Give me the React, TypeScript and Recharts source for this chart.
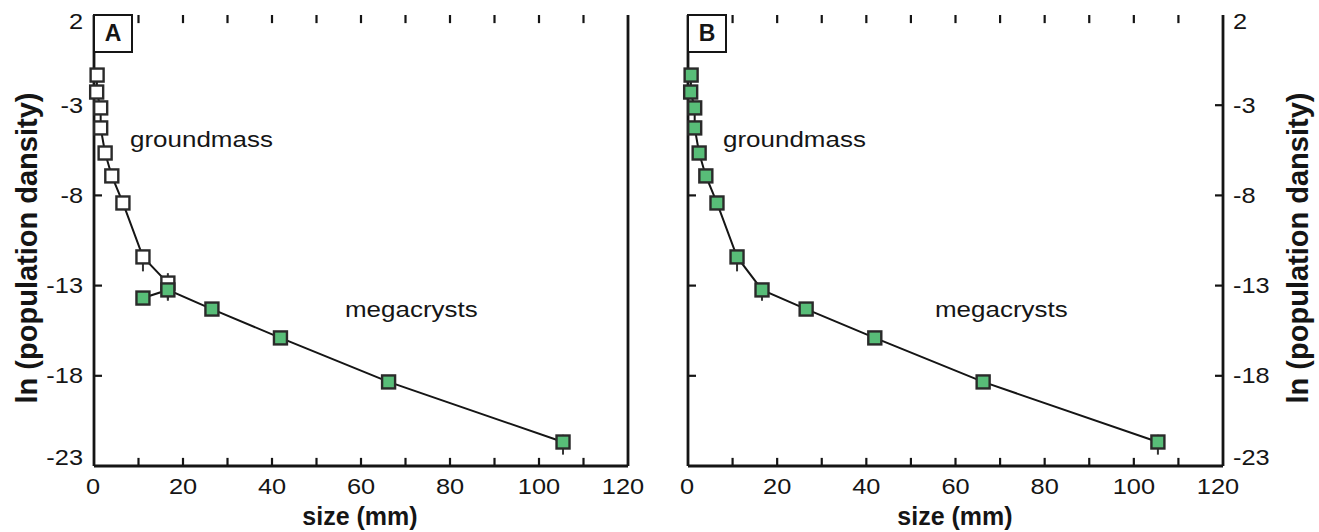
import React from 'react';
import { ScatterChart, Scatter, XAxis, YAxis, ErrorBar, ReferenceLine } from 'recharts';

// groundmass crystals (small sizes)
const gmSize = [0.7, 0.6, 1.5, 1.5, 2.5, 4.0, 6.5, 11.0, 16.6];
const gmLnN = [-1.33, -2.27, -3.15, -4.26, -5.65, -6.92, -8.42, -11.41, -12.86];
const gmErrLow = [0, 0, 0, 0, 0, 0, 0, 0.8, 0.9];
const gmErrHigh = [0, 0, 0, 0, 0, 0, 0, 0, 0.55];

// megacrysts
const mcSize = [11.0, 16.6, 26.5, 41.9, 66.2, 105.4];
const mcLnN = [-13.69, -13.24, -14.3, -15.9, -18.34, -21.67];
const mcErrLow = [0, 0.6, 0, 0, 0, 0.7];
const mcErrHigh = [0, 0.3, 0, 0, 0, 0.4];

const xTicks = [0, 10, 20, 30, 40, 50, 60, 70, 80, 90, 100, 110, 120];
const yTicks = [2, -3, -8, -13, -18, -23];

const X_MIN = 0;
const X_MAX = 120;
const Y_MIN = -23;
const Y_MAX = 2;

const INK = '#151515';
const GREEN = '#58bd78';
const FONT = '"Liberation Sans", Arial, Helvetica, sans-serif';
const STRETCH = 1.18; // glyphs in the original are a little wide

// inward tick length (~8px) in data units of each axis
const TICK_DY = 0.45;
const TICK_DX = 1.8;

type Pt = { x: number; y: number; err: [number, number] };

const toPoints = (xs: number[], ys: number[], lo: number[], hi: number[]): Pt[] =>
  xs.map((x, i) => ({ x, y: ys[i], err: [lo[i], hi[i]] }));

const gmPoints = toPoints(gmSize, gmLnN, gmErrLow, gmErrHigh);
const mcPoints = toPoints(mcSize, mcLnN, mcErrLow, mcErrHigh);
// panel B: one continuous distribution
const allPoints = [...gmPoints.slice(0, 8), ...mcPoints.slice(1)];

const innerX = xTicks.filter((t) => t > X_MIN && t < X_MAX);
const innerY = yTicks.filter((t) => t > Y_MIN && t < Y_MAX);

const square = (fill: string) => (props: any) => (
  <rect
    x={props.cx - 6.5}
    y={props.cy - 6.5}
    width={13}
    height={13}
    fill={fill}
    stroke="#2a2a2a"
    strokeWidth={2.4}
  />
);

type Side = 'bottom' | 'left' | 'right';

// tickSize/tickMargin are 0, so x/y sit on the axis line
const AxisLabel = (props: any) => {
  const { x, y, payload, side } = props as {
    x: number;
    y: number;
    payload: { value: number };
    side: Side;
  };
  const v = payload.value;
  if (side === 'bottom') {
    if (v % 20 !== 0) return <g />;
    const nudge = v === X_MAX ? -5 : v === X_MIN ? -1 : 0;
    return (
      <text
        transform={`translate(${x + nudge},${y + 21}) scale(${STRETCH},1)`}
        textAnchor="middle"
        dominantBaseline="central"
        fontSize={21.5}
        fontFamily={FONT}
        fill={INK}
      >
        {v}
      </text>
    );
  }
  const shift = v === Y_MAX ? 7 : v === Y_MIN ? -8 : 0;
  return (
    <text
      transform={`translate(${side === 'left' ? x - 11 : x + 10},${y + shift}) scale(${STRETCH},1)`}
      textAnchor={side === 'left' ? 'end' : 'start'}
      dominantBaseline="central"
      fontSize={21.5}
      fontFamily={FONT}
      fill={INK}
    >
      {v}
    </text>
  );
};

const axisStroke = { stroke: INK, strokeWidth: 2.8 };
const tickStroke = { stroke: INK, strokeWidth: 2.2 };

function tickMarks(xId: string, yId: string, rightTicks: boolean) {
  const marks: React.ReactNode[] = [];
  innerX.forEach((t) => {
    marks.push(
      <ReferenceLine
        key={`b${t}`}
        xAxisId={xId}
        yAxisId={yId}
        segment={[{ x: t, y: Y_MIN }, { x: t, y: Y_MIN + TICK_DY }]}
        {...tickStroke}
      />,
      <ReferenceLine
        key={`t${t}`}
        xAxisId={xId}
        yAxisId={yId}
        segment={[{ x: t, y: Y_MAX }, { x: t, y: Y_MAX - TICK_DY }]}
        {...tickStroke}
      />,
    );
  });
  innerY.forEach((v) => {
    marks.push(
      <ReferenceLine
        key={`l${v}`}
        xAxisId={xId}
        yAxisId={yId}
        segment={[{ x: X_MIN, y: v }, { x: X_MIN + TICK_DX, y: v }]}
        {...tickStroke}
      />,
    );
    if (rightTicks) {
      marks.push(
        <ReferenceLine
          key={`r${v}`}
          xAxisId={xId}
          yAxisId={yId}
          segment={[{ x: X_MAX, y: v }, { x: X_MAX - TICK_DX, y: v }]}
          {...tickStroke}
        />,
      );
    }
  });
  return marks;
}

function PanelBox({ left, letter }: { left: number; letter: string }) {
  return (
    <div
      style={{
        position: 'absolute',
        left,
        top: 14,
        width: 40,
        height: 39,
        boxSizing: 'border-box',
        border: `2.6px solid ${INK}`,
        background: '#fff',
        fontWeight: 'bold',
        fontSize: 23,
        lineHeight: '34px',
        textAlign: 'center',
        color: INK,
      }}
    >
      {letter}
    </div>
  );
}

function Note({ left, top, text }: { left: number; top: number; text: string }) {
  return (
    <div
      style={{
        position: 'absolute',
        left,
        top,
        fontSize: 22,
        lineHeight: 1,
        color: INK,
        whiteSpace: 'nowrap',
        transform: `scaleX(${STRETCH})`,
        transformOrigin: 'left center',
      }}
    >
      {text}
    </div>
  );
}

function SideLabel({ cx, text }: { cx: number; text: string }) {
  return (
    <div
      style={{
        position: 'absolute',
        left: cx,
        top: 248,
        transform: 'translate(-50%, -50%) rotate(-90deg)',
        fontWeight: 'bold',
        fontSize: 29,
        lineHeight: 1,
        color: INK,
        whiteSpace: 'nowrap',
      }}
    >
      {text}
    </div>
  );
}

function BottomLabel({ cx }: { cx: number }) {
  return (
    <div
      style={{
        position: 'absolute',
        left: cx,
        top: 516,
        transform: 'translate(-50%, -50%)',
        fontWeight: 'bold',
        fontSize: 25,
        lineHeight: 1,
        color: INK,
        whiteSpace: 'nowrap',
      }}
    >
      size (mm)
    </div>
  );
}

const xCommon = {
  type: 'number' as const,
  domain: [X_MIN, X_MAX],
  ticks: xTicks,
  interval: 0,
  tickSize: 0,
  tickMargin: 0,
  tickLine: false,
  stroke: INK,
  strokeWidth: 2.8,
  axisLine: axisStroke,
};

const yCommon = {
  type: 'number' as const,
  domain: [Y_MIN, Y_MAX],
  ticks: yTicks,
  interval: 0,
  tickSize: 0,
  tickMargin: 0,
  tickLine: false,
  stroke: INK,
  strokeWidth: 2.8,
  axisLine: axisStroke,
};

function PanelA() {
  return (
    <ScatterChart width={660} height={532} margin={{ top: 15, right: 0, bottom: 0, left: 0 }}>
      <XAxis
        {...xCommon}
        xAxisId="b"
        dataKey="x"
        height={66}
        tick={(p: any) => <AxisLabel {...p} side="bottom" />}
      />
      <XAxis {...xCommon} xAxisId="t" orientation="top" height={0} tick={false} />
      <YAxis
        {...yCommon}
        yAxisId="l"
        dataKey="y"
        width={94}
        tick={(p: any) => <AxisLabel {...p} side="left" />}
      />
      <YAxis {...yCommon} yAxisId="r" orientation="right" width={32} tick={false} />
      {tickMarks('b', 'l', false)}
      <Scatter
        xAxisId="b"
        yAxisId="l"
        data={gmPoints}
        line={{ stroke: INK, strokeWidth: 2 }}
        shape={square('#fff')}
        isAnimationActive={false}
      >
        <ErrorBar dataKey="err" direction="y" width={0} stroke="#333" strokeWidth={2} />
      </Scatter>
      <Scatter
        xAxisId="b"
        yAxisId="l"
        data={mcPoints}
        line={{ stroke: INK, strokeWidth: 2 }}
        shape={square(GREEN)}
        isAnimationActive={false}
      >
        <ErrorBar dataKey="err" direction="y" width={0} stroke="#333" strokeWidth={2} />
      </Scatter>
    </ScatterChart>
  );
}

function PanelB() {
  return (
    <ScatterChart width={659} height={532} margin={{ top: 15, right: 0, bottom: 0, left: 0 }}>
      <XAxis
        {...xCommon}
        xAxisId="b"
        dataKey="x"
        height={66}
        tick={(p: any) => <AxisLabel {...p} side="bottom" />}
      />
      <XAxis {...xCommon} xAxisId="t" orientation="top" height={0} tick={false} />
      <YAxis {...yCommon} yAxisId="l" width={28} tick={false} />
      <YAxis
        {...yCommon}
        yAxisId="r"
        orientation="right"
        dataKey="y"
        width={96}
        tick={(p: any) => <AxisLabel {...p} side="right" />}
      />
      {tickMarks('b', 'r', true)}
      <Scatter
        xAxisId="b"
        yAxisId="r"
        data={allPoints}
        line={{ stroke: INK, strokeWidth: 2 }}
        shape={square(GREEN)}
        isAnimationActive={false}
      >
        <ErrorBar dataKey="err" direction="y" width={0} stroke="#333" strokeWidth={2} />
      </Scatter>
    </ScatterChart>
  );
}

export default function App() {
  return (
    <div
      style={{
        position: 'absolute',
        left: 0,
        top: 0,
        width: 1319,
        height: 532,
        background: '#fff',
        fontFamily: FONT,
        overflow: 'hidden',
      }}
    >
      <div style={{ position: 'absolute', left: 0, top: 0 }}>
        <PanelA />
      </div>
      <div style={{ position: 'absolute', left: 660, top: 0 }}>
        <PanelB />
      </div>
      <PanelBox left={93} letter="A" />
      <PanelBox left={687} letter="B" />
      <Note left={130} top={129} text="groundmass" />
      <Note left={345} top={299} text="megacrysts" />
      <Note left={723} top={129} text="groundmass" />
      <Note left={935} top={299} text="megacrysts" />
      <SideLabel cx={27} text="ln (population dansity)" />
      <SideLabel cx={1298} text="ln (population dansity)" />
      <BottomLabel cx={360} />
      <BottomLabel cx={955} />
    </div>
  );
}
